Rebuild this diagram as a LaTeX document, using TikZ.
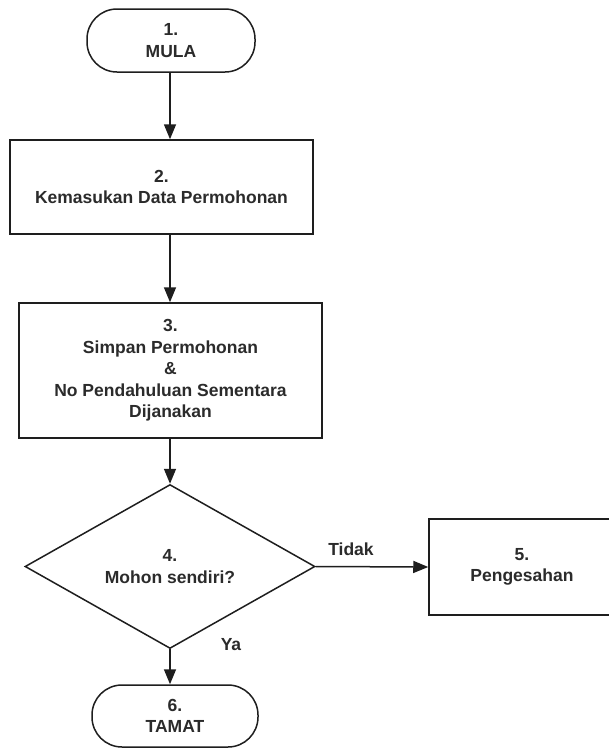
\documentclass[tikz,border=0pt]{standalone}
\usepackage{fontspec}
\setmainfont{Liberation Sans}
\usetikzlibrary{shapes.geometric,arrows.meta}
\definecolor{ln}{HTML}{1E1E1E}
\definecolor{txt}{HTML}{2B2B2B}
\begin{document}
\begin{tikzpicture}[x=1pt,y=-1pt,
  every node/.style={font=\bfseries\fontsize{17.5}{21.5}\selectfont, text=txt, align=center},
  proc/.style={draw=ln, line width=1.5pt, rectangle, inner sep=0pt},
  term/.style={draw=ln, line width=1.5pt, rectangle, rounded corners=30pt, inner sep=0pt},
  dec/.style={draw=ln, line width=1.5pt, diamond, inner sep=0pt},
  flow/.style={draw=ln, line width=1.5pt, -{Triangle[width=12pt,length=15pt]}},
  lbl/.style={inner sep=1pt}
]
\useasboundingbox (0,0) rectangle (609,748);
\clip (0,0) rectangle (609,748);
\fill[white] (0,0) rectangle (609,748);
\node[term, minimum width=168pt, minimum height=63pt] (t1) at (171,40.5) {1.\\MULA};
\node[proc, minimum width=303pt, minimum height=94pt] (b2) at (161.5,187) {2.\\Kemasukan Data Permohonan};
\node[proc, minimum width=303pt, minimum height=135pt] (b3) at (170.5,370.5) {3.\\Simpan Permohonan\\\&\\No Pendahuluan Sementara\\Dijanakan};
\node[dec, minimum width=290pt, minimum height=123pt] (d4) at (170,566.5) {4.\\Mohon sendiri?};
\node[proc, minimum width=186pt, minimum height=96pt] (b5) at (522,567) {5.\\Pengesahan};
\node[term, minimum width=166pt, minimum height=62pt] (t6) at (175,716) {6.\\TAMAT};
\draw[flow] (t1.south -| d4.north) -- (b2.north -| d4.north);
\draw[flow] (b2.south -| d4.north) -- (b3.north -| d4.north);
\draw[flow] (b3.south -| d4.north) -- (d4.north);
\draw[flow] (d4.east) -- (b5.west);
\draw[flow] (d4.south) -- (d4.south |- t6.north);
\node[lbl] (tidak) at (351,549) {Tidak};
\node[lbl] (ya) at (231,645) {Ya};
\end{tikzpicture}
\end{document}
